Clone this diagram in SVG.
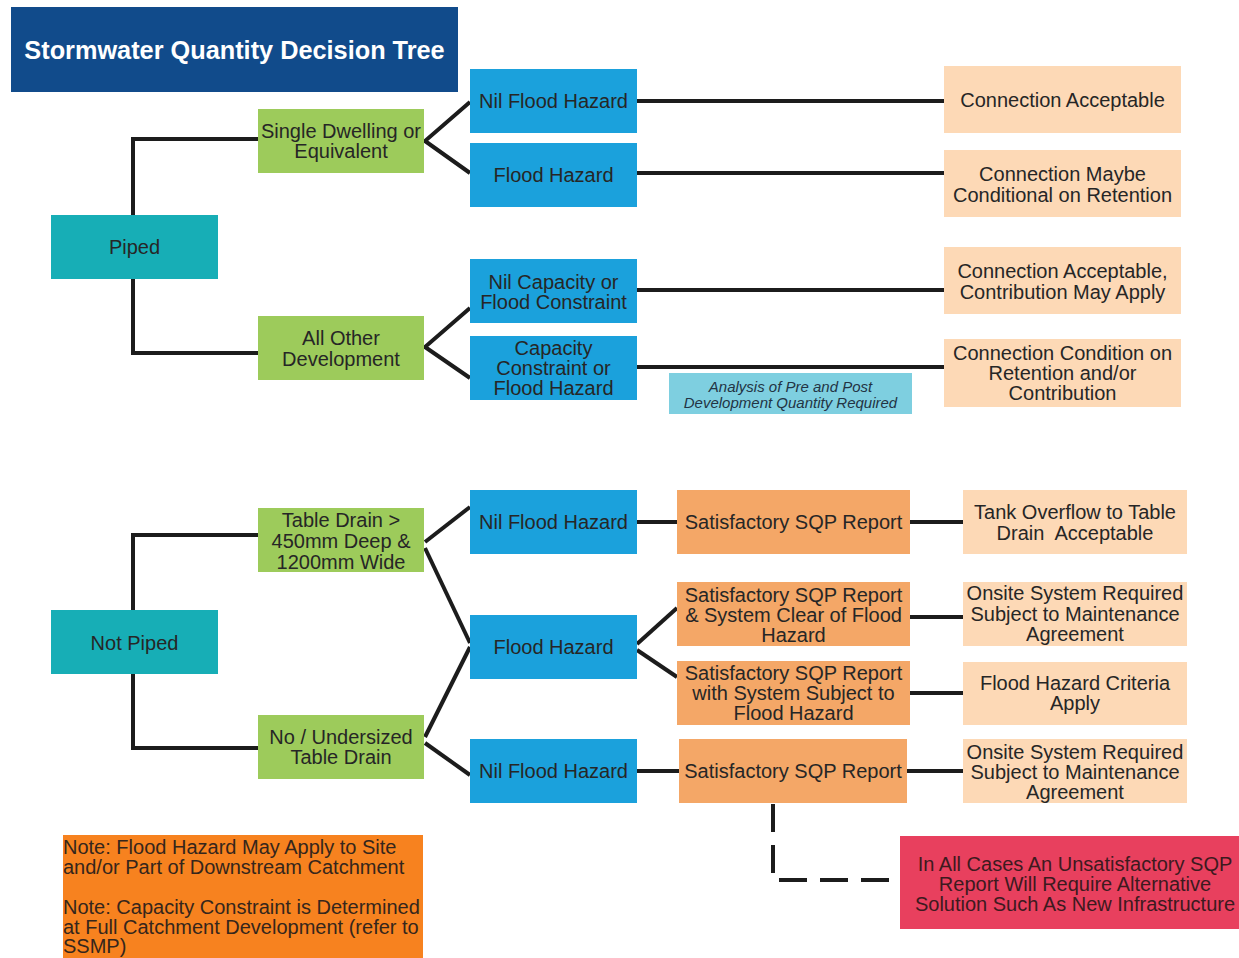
<svg xmlns="http://www.w3.org/2000/svg" width="1239" height="958" viewBox="0 0 1239 958">
<style>
text{font-family:"Liberation Sans",Arial,sans-serif;font-size:20px;fill:#262626;text-anchor:middle}
.title{font-weight:bold;font-size:25.3px;fill:#ffffff}
.it{font-style:italic;font-size:15px;fill:#233444}
.left{text-anchor:start;fill:#35261c}
.red{fill:#3d1a1e}
.c{fill:none;stroke:#1c1c1c;stroke-width:4}
.teal{fill:#17aeb6}.green{fill:#9dcb5b}.blue{fill:#1ba1dc}.peach{fill:#fdd9b6}.sqp{fill:#f4a767}
</style>
<rect width="1239" height="958" fill="#ffffff"/>
<g id="connectors">
<polyline class="c" points="258,139 133,139 133,215"/>
<polyline class="c" points="133,279 133,353 258,353"/>
<polyline class="c" points="470,102 425,141 470,173"/>
<polyline class="c" points="470,308 425,347 470,378"/>
<line class="c" x1="637" y1="101" x2="945" y2="101"/>
<line class="c" x1="637" y1="173" x2="945" y2="173"/>
<line class="c" x1="637" y1="290" x2="945" y2="290"/>
<line class="c" x1="637" y1="367" x2="945" y2="367"/>
<polyline class="c" points="258,535 133,535 133,610"/>
<polyline class="c" points="133,674 133,748 258,748"/>
<line class="c" x1="425" y1="542" x2="470" y2="507"/>
<line class="c" x1="425" y1="548" x2="470" y2="643"/>
<line class="c" x1="425" y1="737" x2="470" y2="647"/>
<line class="c" x1="425" y1="743" x2="470" y2="775"/>
<line class="c" x1="637" y1="522" x2="677" y2="522"/>
<line class="c" x1="637" y1="644" x2="677" y2="608"/>
<line class="c" x1="637" y1="650" x2="677" y2="677"/>
<line class="c" x1="637" y1="771" x2="679" y2="771"/>
<line class="c" x1="910" y1="522" x2="963" y2="522"/>
<line class="c" x1="910" y1="617" x2="963" y2="617"/>
<line class="c" x1="910" y1="693" x2="963" y2="693"/>
<line class="c" x1="907" y1="771" x2="963" y2="771"/>
<path class="c" d="M773,804 V880 H900" stroke-dasharray="28 13"/>
</g>
<g id="title"><rect x="11" y="7" width="447" height="85" fill="#114b8b"/><text class="title" x="234.5" y="59">Stormwater Quantity Decision Tree</text></g>
<g id="piped"><rect class="teal" x="51" y="215" width="167" height="64"/><text x="134.5" y="254">Piped</text></g>
<g id="single-dwelling"><rect class="green" x="258" y="109" width="166" height="64"/><text x="341" y="138">Single Dwelling or</text><text x="341" y="158">Equivalent</text></g>
<g id="all-other"><rect class="green" x="258" y="316" width="166" height="64"/><text x="341" y="345">All Other</text><text x="341" y="366">Development</text></g>
<g id="nil-flood-1"><rect class="blue" x="470" y="69" width="167" height="64"/><text x="553.5" y="108">Nil Flood Hazard</text></g>
<g id="flood-1"><rect class="blue" x="470" y="143" width="167" height="64"/><text x="553.5" y="182">Flood Hazard</text></g>
<g id="nil-capacity"><rect class="blue" x="470" y="259" width="167" height="64"/><text x="553.5" y="289">Nil Capacity or</text><text x="553.5" y="309">Flood Constraint</text></g>
<g id="capacity-constraint"><rect class="blue" x="470" y="336" width="167" height="64"/><text x="553.5" y="355">Capacity</text><text x="553.5" y="375">Constraint or</text><text x="553.5" y="395">Flood Hazard</text></g>
<g id="analysis"><rect x="669" y="373" width="243" height="41" fill="#7ecfe0"/><text class="it" x="790.5" y="392">Analysis of Pre and Post</text><text class="it" x="790.5" y="408">Development Quantity Required</text></g>
<g id="conn-acceptable"><rect class="peach" x="944" y="66" width="237" height="67"/><text x="1062.5" y="107">Connection Acceptable</text></g>
<g id="conn-maybe"><rect class="peach" x="944" y="150" width="237" height="67"/><text x="1062.5" y="181">Connection Maybe</text><text x="1062.5" y="202">Conditional on Retention</text></g>
<g id="conn-contribution"><rect class="peach" x="944" y="247" width="237" height="67"/><text x="1062.5" y="278">Connection Acceptable,</text><text x="1062.5" y="299">Contribution May Apply</text></g>
<g id="conn-condition"><rect class="peach" x="944" y="339" width="237" height="68"/><text x="1062.5" y="360">Connection Condition on</text><text x="1062.5" y="380">Retention and/or</text><text x="1062.5" y="400">Contribution</text></g>
<g id="not-piped"><rect class="teal" x="51" y="610" width="167" height="64"/><text x="134.5" y="650">Not Piped</text></g>
<g id="table-drain"><rect class="green" x="258" y="508" width="166" height="64"/><text x="341" y="527">Table Drain &gt;</text><text x="341" y="548">450mm Deep &amp;</text><text x="341" y="569">1200mm Wide</text></g>
<g id="no-table-drain"><rect class="green" x="258" y="715" width="166" height="64"/><text x="341" y="744">No / Undersized</text><text x="341" y="764">Table Drain</text></g>
<g id="nil-flood-2"><rect class="blue" x="470" y="490" width="167" height="64"/><text x="553.5" y="529">Nil Flood Hazard</text></g>
<g id="flood-2"><rect class="blue" x="470" y="615" width="167" height="64"/><text x="553.5" y="654">Flood Hazard</text></g>
<g id="nil-flood-3"><rect class="blue" x="470" y="739" width="167" height="64"/><text x="553.5" y="778">Nil Flood Hazard</text></g>
<g id="sqp-1"><rect class="sqp" x="677" y="490" width="233" height="64"/><text x="793.5" y="529">Satisfactory SQP Report</text></g>
<g id="sqp-2"><rect class="sqp" x="677" y="582" width="233" height="64"/><text x="793.5" y="602">Satisfactory SQP Report</text><text x="793.5" y="622">&amp; System Clear of Flood</text><text x="793.5" y="642">Hazard</text></g>
<g id="sqp-3"><rect class="sqp" x="677" y="661" width="233" height="64"/><text x="793.5" y="680">Satisfactory SQP Report</text><text x="793.5" y="700">with System Subject to</text><text x="793.5" y="720">Flood Hazard</text></g>
<g id="sqp-4"><rect class="sqp" x="679" y="739" width="228" height="64"/><text x="793" y="778">Satisfactory SQP Report</text></g>
<g id="tank-overflow"><rect class="peach" x="963" y="490" width="224" height="64"/><text x="1075" y="519">Tank Overflow to Table</text><text x="1075" y="540" xml:space="preserve">Drain  Acceptable</text></g>
<g id="onsite-1"><rect class="peach" x="963" y="582" width="224" height="64"/><text x="1075" y="600">Onsite System Required</text><text x="1075" y="621">Subject to Maintenance</text><text x="1075" y="641">Agreement</text></g>
<g id="flood-criteria"><rect class="peach" x="963" y="662" width="224" height="63"/><text x="1075" y="690">Flood Hazard Criteria</text><text x="1075" y="710">Apply</text></g>
<g id="onsite-2"><rect class="peach" x="963" y="739" width="224" height="64"/><text x="1075" y="759">Onsite System Required</text><text x="1075" y="779">Subject to Maintenance</text><text x="1075" y="799">Agreement</text></g>
<g id="unsatisfactory"><rect x="900" y="836" width="339" height="93" fill="#e8405e"/><text class="red" x="1075" y="871">In All Cases An Unsatisfactory SQP</text><text class="red" x="1075" y="891">Report Will Require Alternative</text><text class="red" x="1075" y="911">Solution Such As New Infrastructure</text></g>
<g id="notes"><rect x="63" y="835" width="360" height="123" fill="#f7821f"/><text class="left" x="63" y="854">Note: Flood Hazard May Apply to Site</text><text class="left" x="63" y="874">and/or Part of Downstream Catchment</text><text class="left" x="63" y="914">Note: Capacity Constraint is Determined</text><text class="left" x="63" y="934">at Full Catchment Development (refer to</text><text class="left" x="63" y="953">SSMP)</text></g>
</svg>
